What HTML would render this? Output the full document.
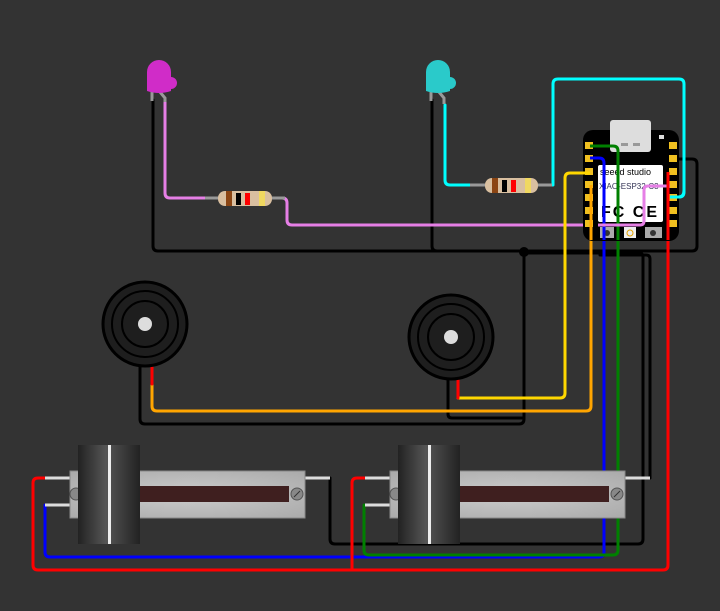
<!DOCTYPE html>
<html><head><style>html,body{margin:0;padding:0;background:#333}svg{display:block}</style></head><body>
<svg width="720" height="611" viewBox="0 0 720 611" xmlns="http://www.w3.org/2000/svg">
<defs>
<linearGradient id="knob" x1="0" x2="1"><stop offset="0" stop-color="#222"/><stop offset="0.45" stop-color="#555"/><stop offset="1" stop-color="#222"/></linearGradient>
<radialGradient id="body" cx="0.5" cy="0.5" r="0.7"><stop offset="0" stop-color="#ccc"/><stop offset="1" stop-color="#aaa"/></radialGradient>
</defs>
<rect width="720" height="611" fill="#333"/>
<g fill="none" stroke-width="3" stroke-linejoin="round" stroke-linecap="round">
<path d="M153 100 V246 q0 5 5 5 H692 q5 0 5-5 V164 q0-5-5-5 H672" stroke="#000"/>
<path d="M432 100 V246 q0 5 5 5" stroke="#000"/>
<path d="M524 252 V419 q0 5-5 5 H145 q-5 0-5-5 V367" stroke="#000"/>
<path d="M448 380 V414 q0 4 4 4 H524" stroke="#000"/>
<path d="M524 253 H639 q4 0 4 4 V539 q0 5-5 5 H335 q-5 0-5-5 V478" stroke="#000"/>
<path d="M600 255 H646 q4 0 4 4 V478 H648" stroke="#000"/>
<path d="M165 102 V193 q0 5 5 5 H218" stroke="#e67fe6"/>
<path d="M272 198 H282 q5 0 5 5 V220 q0 5 5 5 H640 q4 0 4-4 V190 q0-4 4-4 H670" stroke="#e67fe6"/>
<path d="M445 105 V180 q0 5 5 5 H473" stroke="#0ff"/>
<path d="M538 185 H553 V84 q0-5 5-5 H679 q5 0 5 5 V192 q0 5-5 5 H670" stroke="#0ff"/>
<path d="M458 398 H560 q5 0 5-5 V178 q0-5 5-5 H590" stroke="#ffd700"/>
<path d="M152 384 V406 q0 5 5 5 H586 q5 0 5-5 V185" stroke="#ffa500"/>
<path d="M45 505 V552 q0 5 5 5 H599 q5 0 5-5 V163 q0-5-5-5 H590" stroke="#00f"/>
<path d="M364 505 V550 q0 5 5 5 H613 q5 0 5-5 V151 q0-5-5-5 H590" stroke="#008000"/>
<path d="M45 478 H38 q-5 0-5 5 V565 q0 5 5 5 H663 q5 0 5-5 V172" stroke="#f00"/>
<path d="M365 478 H357 q-5 0-5 5 V570" stroke="#f00"/>
<path d="M152 367 V384 M458 380 V398" stroke="#f00"/>
</g>
<circle cx="524" cy="252" r="5" fill="#000"/>
<g stroke="#999" stroke-width="3" fill="none"><path d="M152 92 V101 M160 92 l5 6 V102"/><path d="M431 92 V101 M439 92 l5 6 V104"/></g>
<path d="M147 72 a12 12 0 0 1 24 0 v5 a4 4 0 0 1 0 12 v2 q-12 4-24 0 z" fill="#d02cc8"/>
<path d="M426 72 a12 12 0 0 1 24 0 v5 a4 4 0 0 1 0 12 v2 q-12 4-24 0 z" fill="#2acaca"/>
<g><line x1="205" y1="198" x2="285" y2="198" stroke="#999" stroke-width="3"/><rect x="218" y="191" width="54" height="15" rx="7" fill="#d9bfa0"/><rect x="226" y="191" width="6" height="15" fill="#8b4513"/><rect x="236" y="193" width="5" height="12" fill="#000"/><rect x="245" y="193" width="5" height="12" fill="#f00"/><rect x="259" y="191" width="6" height="15" fill="#f0d860"/></g>
<g><line x1="470" y1="185" x2="552" y2="185" stroke="#999" stroke-width="3"/><rect x="485" y="178" width="53" height="15" rx="7" fill="#d9bfa0"/><rect x="492" y="178" width="6" height="15" fill="#8b4513"/><rect x="502" y="180" width="5" height="12" fill="#000"/><rect x="511" y="180" width="5" height="12" fill="#f00"/><rect x="525" y="178" width="6" height="15" fill="#f0d860"/></g>
<g stroke="#000" stroke-width="2" fill="#1e1e1e"><circle cx="145" cy="324" r="42" stroke-width="3"/><circle cx="145" cy="324" r="33"/><circle cx="145" cy="324" r="23"/></g>
<circle cx="145" cy="324" r="7" fill="#ddd"/>
<g stroke="#000" stroke-width="2" fill="#1e1e1e"><circle cx="451" cy="337" r="42" stroke-width="3"/><circle cx="451" cy="337" r="33"/><circle cx="451" cy="337" r="23"/></g>
<circle cx="451" cy="337" r="7" fill="#ddd"/>
<g id="pot1">
<g stroke="#ddd" stroke-width="3"><line x1="45" y1="478" x2="70" y2="478"/><line x1="45" y1="505" x2="70" y2="505"/><line x1="305" y1="478" x2="330" y2="478"/></g>
<rect x="70" y="471" width="235" height="47" fill="url(#body)" stroke="#888"/>
<rect x="140" y="486" width="149" height="16" fill="#3f1f1f"/>
<circle cx="297" cy="494" r="6" fill="#888" stroke="#555"/><line x1="294" y1="497" x2="300" y2="491" stroke="#333"/>
<circle cx="76" cy="494" r="6" fill="#888" stroke="#555"/>
<rect x="78" y="445" width="62" height="99" fill="url(#knob)"/>
<rect x="108" y="445" width="3" height="99" fill="#eee"/>
</g>
<use href="#pot1" x="320"/>
<rect x="583" y="130" width="96" height="111" rx="10" fill="#000"/>
<rect x="610" y="120" width="41" height="32" rx="3" fill="#ddd"/>
<rect x="621" y="143" width="7" height="3" fill="#999"/><rect x="633" y="143" width="7" height="3" fill="#999"/>
<rect x="659" y="135" width="5" height="4" fill="#ddd"/>
<g fill="#f0c020">
<rect x="585" y="142" width="8" height="7"/><rect x="585" y="155" width="8" height="7"/><rect x="585" y="168" width="8" height="7"/><rect x="585" y="181" width="8" height="7"/><rect x="585" y="194" width="8" height="7"/><rect x="585" y="207" width="8" height="7"/><rect x="585" y="220" width="8" height="7"/>
<rect x="669" y="142" width="8" height="7"/><rect x="669" y="155" width="8" height="7"/><rect x="669" y="168" width="8" height="7"/><rect x="669" y="181" width="8" height="7"/><rect x="669" y="194" width="8" height="7"/><rect x="669" y="207" width="8" height="7"/><rect x="669" y="220" width="8" height="7"/>
</g>
<rect x="598" y="165" width="65" height="57" rx="2" fill="#fff"/>
<text x="600" y="175" font-family="Liberation Sans, sans-serif" font-size="9" fill="#000">seeed studio</text>
<text x="599" y="189" font-family="Liberation Sans, sans-serif" font-size="8" fill="#335">XIAO-ESP32-C3</text>
<text x="601" y="217" font-family="Liberation Sans, sans-serif" font-size="16" font-weight="bold" fill="#000" letter-spacing="2">FC CE</text>
<rect x="600" y="227" width="14" height="11" fill="#aaa"/><circle cx="607" cy="233" r="3" fill="#333"/>
<rect x="624" y="227" width="12" height="11" fill="#eee"/><circle cx="630" cy="233" r="3" fill="none" stroke="#e0a000"/>
<rect x="645" y="227" width="17" height="11" fill="#aaa"/><circle cx="653" cy="233" r="3" fill="#333"/>
<g fill="none" stroke-width="3" stroke-linejoin="round">
<path d="M604 240 V163 q0-5-5-5 H590" stroke="#00f"/>
<path d="M618 240 V151 q0-5-5-5 H590" stroke="#008000"/>
<path d="M591 240 V185" stroke="#ffa500"/>
<path d="M570 173 H590" stroke="#ffd700"/>
<path d="M598 225 H640 q4 0 4-4 V190 q0-4 4-4 H670" stroke="#e67fe6"/>
<path d="M668 240 V172" stroke="#f00"/>
<path d="M684 190 q0 7-5 7 H670" stroke="#0ff"/>
</g>
</svg>
</body></html>
